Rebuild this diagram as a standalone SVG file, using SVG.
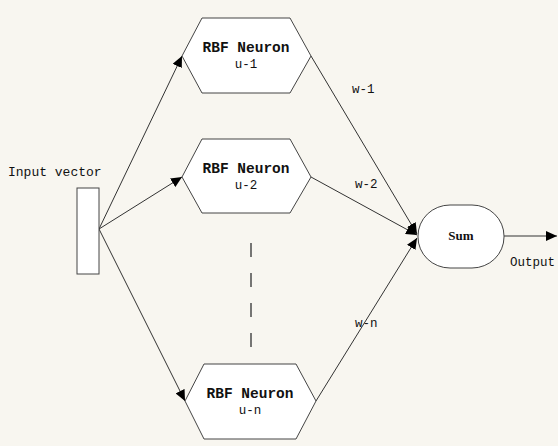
<svg xmlns="http://www.w3.org/2000/svg" width="558" height="446" viewBox="0 0 558 446">
  <style>
    .bg { fill: #f8f6f0; }
    .shape { fill: #ffffff; stroke: #444444; stroke-width: 1; }
    .edge { fill: none; stroke: #333333; stroke-width: 1; marker-end: url(#arrow); }
    .dash { fill: none; stroke: #555555; stroke-width: 1.6; stroke-dasharray: 14 16; }
    .title { font-family: "Liberation Mono", "DejaVu Sans Mono", monospace; font-size: 14.5px; font-weight: bold; fill: #111111; text-anchor: middle; }
    .sub { font-family: "Liberation Mono", "DejaVu Sans Mono", monospace; font-size: 12.5px; fill: #111111; text-anchor: middle; }
    .label { font-family: "Liberation Mono", "DejaVu Sans Mono", monospace; font-size: 12.5px; fill: #111111; }
    .sum { font-family: "Liberation Serif", "DejaVu Serif", serif; font-size: 13px; font-weight: bold; fill: #111111; text-anchor: middle; }
  </style>
  <defs>
    <marker id="arrow" markerUnits="userSpaceOnUse" markerWidth="12" markerHeight="10" refX="11" refY="5" orient="auto">
      <path d="M0,0 L11,5 L0,10 Z" fill="#000000"/>
    </marker>
  </defs>

  <rect class="bg" x="0" y="0" width="558" height="446"/>

  <!-- connectors -->
  <g id="connectors">
    <line class="edge" x1="99" y1="229" x2="182" y2="56"/>
    <line class="edge" x1="99" y1="229" x2="182" y2="177"/>
    <line class="edge" x1="99" y1="229" x2="185" y2="401"/>
    <line class="edge" x1="311" y1="56" x2="417" y2="234"/>
    <line class="edge" x1="311" y1="177" x2="417" y2="235"/>
    <line class="edge" x1="316" y1="401" x2="417" y2="238"/>
    <line class="edge" x1="504" y1="236" x2="557" y2="236"/>
    <line class="dash" x1="251" y1="243" x2="251" y2="349"/>
    <text class="label" x="352" y="93">w-1</text>
    <text class="label" x="355" y="188">w-2</text>
    <text class="label" x="355" y="327">w-n</text>
    <text class="label" x="510" y="266">Output</text>
  </g>

  <!-- input vector -->
  <g id="input">
    <rect class="shape" x="77" y="188" width="22" height="86"/>
    <text class="label" x="8" y="176" style="font-size:13px">Input vector</text>
  </g>

  <!-- hidden layer neurons -->
  <g id="neuron1">
    <polygon class="shape" points="182,56 202,18 290,18 311,56 290,93 202,93"/>
    <text class="title" x="246" y="52">RBF Neuron</text>
    <text class="sub" x="246" y="68">u-1</text>
  </g>
  <g id="neuron2">
    <polygon class="shape" points="182,177 202,139 290,139 311,177 290,213 202,213"/>
    <text class="title" x="246" y="173">RBF Neuron</text>
    <text class="sub" x="246" y="189">u-2</text>
  </g>
  <g id="neuronN">
    <polygon class="shape" points="185,401 204,364 296,364 316,401 296,439 204,439"/>
    <text class="title" x="250" y="398">RBF Neuron</text>
    <text class="sub" x="250" y="414">u-n</text>
  </g>

  <!-- output summation -->
  <g id="sum">
    <rect class="shape" x="418" y="205" width="86" height="63" rx="32" ry="31"/>
    <text class="sum" x="461" y="240">Sum</text>
  </g>
</svg>
